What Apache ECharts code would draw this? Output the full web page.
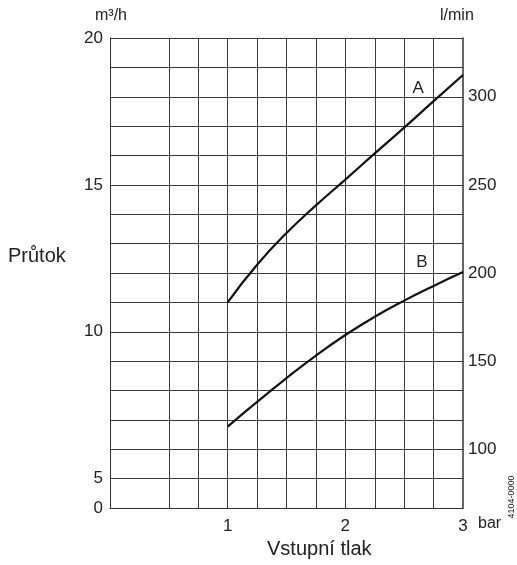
<!DOCTYPE html>
<html><head><meta charset="utf-8">
<script src="https://cdn.jsdelivr.net/npm/echarts@6/dist/echarts.min.js"></script>
<style>html,body{margin:0;padding:0;background:#fff}#c{width:517px;height:565px}</style>
</head><body><div id="c"></div>
<script>
// Data (m³/h vs. bar)
const pressure = [1, 1.25, 1.5, 1.75, 2, 2.25, 2.5, 2.75, 3];
const flowA = [11.0, 12.28, 13.36, 14.3, 15.18, 16.07, 16.95, 17.85, 18.74];
const flowB = [6.77, 7.61, 8.42, 9.19, 9.89, 10.51, 11.06, 11.56, 12.03];
// Tick labels
const xTickLabels = {1: '1', 2: '2', 3: '3'};
const leftTickLabels = {4: '0', 5: '5', 10: '10', 15: '15', 20: '20'};   // m³/h (axis broken below 5)
const rightTickLabels = {6: '100', 9: '150', 12: '200', 15: '250', 18: '300'}; // l/min
const curveNames = ['A', 'B'];
const curveLabelPos = [[2.62, 18.3], [2.65, 12.37]];

const font = 'Liberation Sans, Arial, sans-serif';
const ink = '#222';
const gridColor = '#3a3a3a';
const xLineColors = ['rgba(0,0,0,0)'].concat(new Array(12).fill(gridColor));

const chart = echarts.init(document.getElementById('c'), null, {renderer: 'canvas'});
const mk = (xs, ys) => xs.map((x, i) => [x, ys[i]]);

chart.setOption({
  animation: false,
  backgroundColor: '#fff',
  grid: {left: 110, right: 54, top: 38, bottom: 57, containLabel: false},
  xAxis: {
    type: 'value', min: 0, max: 3, interval: 0.25,
    axisLine: {show: true, lineStyle: {color: '#333', width: 1}},
    axisTick: {show: false},
    axisLabel: {
      interval: 0, margin: 10, fontFamily: font, fontSize: 17, color: ink,
      formatter: v => xTickLabels[Math.round(v * 100) / 100] || ''
    },
    splitLine: {show: true, showMinLine: false, showMaxLine: false,
      lineStyle: {color: xLineColors, width: 1}}
  },
  yAxis: [{
    type: 'value', min: 4, max: 20, interval: 1, position: 'left',
    axisLine: {show: true, lineStyle: {color: '#333', width: 1}},
    axisTick: {show: false},
    axisLabel: {interval: 0, margin: 7, fontFamily: font, fontSize: 17, color: ink,
      formatter: v => leftTickLabels[v] || ''},
    splitLine: {show: true, showMinLine: false, lineStyle: {color: gridColor, width: 1}}
  }, {
    type: 'value', min: 4, max: 20, interval: 1, position: 'right',
    axisLine: {show: true, lineStyle: {color: '#333', width: 1.5}},
    axisTick: {show: false},
    axisLabel: {interval: 0, margin: 5, fontFamily: font, fontSize: 17, color: ink,
      formatter: v => rightTickLabels[v] || ''},
    splitLine: {show: false}
  }],
  series: [flowA, flowB].map((ys, i) => ({
    type: 'line', name: curveNames[i], data: mk(pressure, ys),
    smooth: 0.5, showSymbol: false, symbol: 'none',
    lineStyle: {color: '#111', width: 2.2},
    markPoint: {
      symbol: 'circle', symbolSize: 0,
      label: {show: true, position: 'inside', formatter: curveNames[i],
        fontFamily: font, fontSize: 17, color: ink},
      data: [{coord: curveLabelPos[i]}]
    }
  })),
  graphic: [
    {type: 'text', left: 95, top: 8, style: {text: 'm³/h', font: '16px ' + font, fill: ink}},
    {type: 'text', left: 440, top: 8, style: {text: 'l/min', font: '16px ' + font, fill: ink}},
    {type: 'text', left: 8, top: 246, style: {text: 'Průtok', font: '20px ' + font, fill: ink}},
    {type: 'text', left: 267, top: 539, style: {text: 'Vstupní tlak', font: '20px ' + font, fill: ink}},
    {type: 'text', left: 478, top: 516, style: {text: 'bar', font: '16px ' + font, fill: ink}},
    {type: 'text', x: 516, y: 497, rotation: Math.PI / 2,
      style: {text: '4104-0000', font: '9px ' + font, fill: ink, align: 'center', verticalAlign: 'bottom'}}
  ]
});
</script></body></html>
